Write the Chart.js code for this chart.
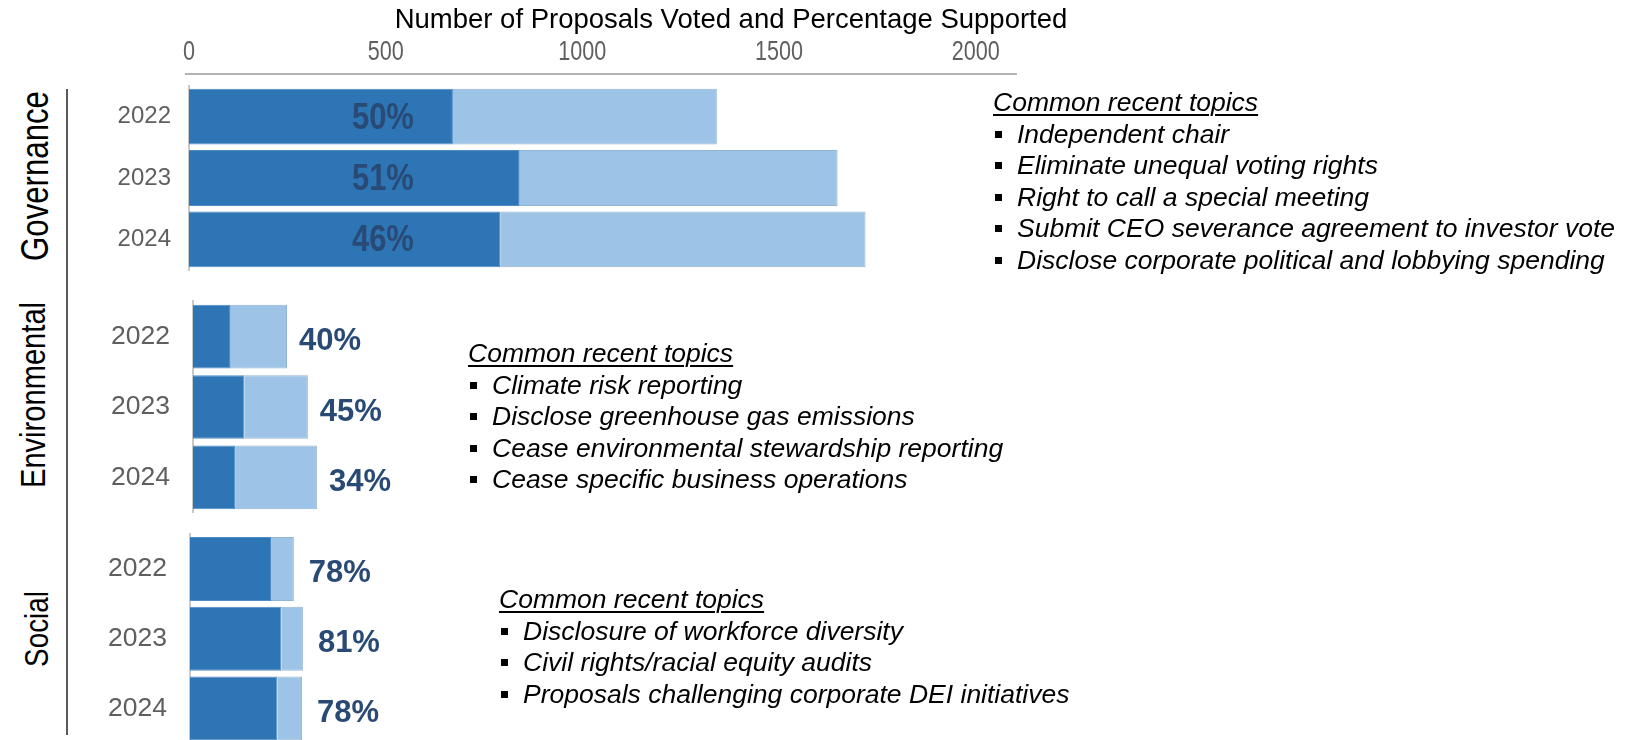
<!DOCTYPE html>
<html>
<head>
<meta charset="utf-8">
<title>Proposals voted and percentage supported</title>
<script src="https://cdn.jsdelivr.net/npm/chart.js@4.4.1/dist/chart.umd.min.js"></script>
<style>
  html, body { margin: 0; padding: 0; background: #fff; }
  body { width: 1644px; height: 740px; position: relative; overflow: hidden; }
  canvas { position: absolute; left: 0; }
  #govCanvas { top: 0; }
  #envCanvas { top: 290px; }
  #socCanvas { top: 520px; }

  /* category names run bottom-to-top, squeezed along the text like a narrow face */
  .cat {
    position: absolute;
    font-family: 'Liberation Sans', Arial, sans-serif;
    color: #000;
    line-height: 1;
    white-space: nowrap;
    transform: translate(-50%, -50%) rotate(-90deg) scaleX(0.82);
  }
  .divider { position: absolute; left: 66px; top: 89px; width: 2px; height: 646px; background: #595959; }

  .topics {
    position: absolute;
    font-family: 'Liberation Sans', Arial, sans-serif;
    font-style: italic;
    font-size: 26.5px;
    line-height: 31.5px;
    color: #000;
    white-space: nowrap;
  }
  .topics .head { text-decoration: underline; text-decoration-thickness: 1.5px; text-underline-offset: 3px; }
  .topics ul { list-style: none; margin: 0; padding: 0; }
  .topics li { position: relative; padding-left: 24px; }
  .topics li::before {
    content: ''; position: absolute; left: 2px; top: 12px;
    width: 7px; height: 7px; background: #000;
  }
</style>
</head>
<body>

<div class="cat" style="left:35px; top:176px; font-size:38px">Governance</div>
<div class="cat" style="left:34px; top:395px; font-size:35.5px">Environmental</div>
<div class="cat" style="left:36px; top:629px; font-size:34px">Social</div>
<div class="divider"></div>

<canvas id="govCanvas" width="1100" height="275"></canvas>
<canvas id="envCanvas" width="1100" height="235"></canvas>
<canvas id="socCanvas" width="1100" height="230"></canvas>

<div class="topics" id="govTopics" style="left:993px; top:87px"></div>
<div class="topics" id="envTopics" style="left:468px; top:338px"></div>
<div class="topics" id="socTopics" style="left:499px; top:584px"></div>

<script>
// Proposals voted per year, split into supported / not supported
const years = ['2022', '2023', '2024'];

const govTotals = [1342, 1649, 1720];
const govSupportPct = [50, 51, 46];

const envTotals = [239, 292, 315];
const envSupportPct = [40, 45, 34];

const socTotals = [264, 287, 285];
const socSupportPct = [78, 81, 78];

// shared count axis
const axisTicks = [0, 500, 1000, 1500, 2000];
const axisMax = 2100;
const axisTitle = 'Number of Proposals Voted and Percentage Supported';

const topicsHeading = 'Common recent topics';
const govTopics = [
    'Independent chair',
    'Eliminate unequal voting rights',
    'Right to call a special meeting',
    'Submit CEO severance agreement to investor vote',
    'Disclose corporate political and lobbying spending'
];
const envTopics = [
    'Climate risk reporting',
    'Disclose greenhouse gas emissions',
    'Cease environmental stewardship reporting',
    'Cease specific business operations'
];
const socTopics = [
    'Disclosure of workforce diversity',
    'Civil rights/racial equity audits',
    'Proposals challenging corporate DEI initiatives'
];

// Colours
const DARK_BLUE = '#2e75b6';
const LIGHT_BLUE = '#9dc3e6';
const LABEL_NAVY = '#284a75';
const TICK_GREY = '#5f5f5f';

// every panel uses the same pixels per proposal so the bars compare
const AXIS_WIDTH = 826;
const SANS = "'Liberation Sans', Arial, sans-serif";

// Topic lists next to each panel
function fillTopics(id, items) {
    const box = document.getElementById(id);
    let html = '<div class="head">' + topicsHeading + '</div><ul>';
    items.forEach(t => { html += '<li>' + t + '</li>'; });
    html += '</ul>';
    box.innerHTML = html;
}
fillTopics('govTopics', govTopics);
fillTopics('envTopics', envTopics);
fillTopics('socTopics', socTopics);

// Percentage labels: at a fixed spot inside the bars, or just past the bar end
const pctLabels = {
    id: 'pctLabels',
    afterDatasetsDraw(chart) {
        const cfg = chart.options.plugins.pctLabels;
        const ctx = chart.ctx;
        const lightBars = chart.getDatasetMeta(1).data;
        ctx.save();
        ctx.fillStyle = LABEL_NAVY;
        ctx.font = 'bold ' + cfg.size + 'px ' + SANS;
        ctx.textBaseline = 'middle';
        cfg.values.forEach((v, i) => {
            const bar = lightBars[i];
            ctx.save();
            if (cfg.inside) {
                ctx.textAlign = 'center';
                ctx.translate(chart.scales.x.getPixelForValue(cfg.at), bar.y + 2);
            } else {
                ctx.textAlign = 'left';
                ctx.translate(bar.x + cfg.gap, bar.y + 5);
            }
            ctx.scale(cfg.squeeze, 1);
            ctx.fillText(v + '%', 0, 0);
            ctx.restore();
        });
        ctx.restore();
    }
};

// Top axis rule, narrow tick labels and title for the governance panel
const topAxisDecor = {
    id: 'topAxisDecor',
    afterDraw(chart) {
        if (!chart.options.plugins.topAxisDecor.show) return;
        const ctx = chart.ctx;
        const xs = chart.scales.x;
        ctx.save();
        ctx.strokeStyle = '#9a9a9a';
        ctx.lineWidth = 1.5;
        ctx.beginPath();
        ctx.moveTo(185, 74);
        ctx.lineTo(1017, 74);
        ctx.stroke();

        ctx.fillStyle = TICK_GREY;
        ctx.font = '27px ' + SANS;
        ctx.textAlign = 'center';
        ctx.textBaseline = 'middle';
        xs.ticks.forEach(t => {
            ctx.save();
            ctx.translate(xs.getPixelForValue(t.value), 53);
            ctx.scale(0.8, 1);
            ctx.fillText(String(t.value), 0, 0);
            ctx.restore();
        });

        ctx.fillStyle = '#000';
        ctx.font = '27.5px ' + SANS;
        ctx.fillText(axisTitle, 731, 20);
        ctx.restore();
    }
};

function buildPanel(canvasId, totals, pct, p) {
    const supported = totals.map((t, i) => Math.round(t * pct[i] / 100));
    const rest = totals.map((t, i) => t - supported[i]);
    const canvas = document.getElementById(canvasId);

    return new Chart(canvas.getContext('2d'), {
        type: 'bar',
        data: {
            labels: years,
            datasets: [{
                data: supported,
                backgroundColor: DARK_BLUE,
                borderColor: '#4d8cc6',
                borderWidth: 1,
                barPercentage: p.barPct,
                categoryPercentage: 1
            }, {
                data: rest,
                backgroundColor: LIGHT_BLUE,
                borderColor: '#93b3d2',
                borderWidth: 1,
                barPercentage: p.barPct,
                categoryPercentage: 1
            }]
        },
        options: {
            indexAxis: 'y',
            responsive: false,
            animation: false,
            layout: {
                padding: { top: p.top, bottom: p.bottom, left: 0, right: canvas.width - p.left - AXIS_WIDTH }
            },
            plugins: {
                legend: { display: false },
                tooltip: { enabled: false },
                pctLabels: {
                    values: pct, inside: p.inside, at: 493, gap: p.gap,
                    size: p.pctSize, squeeze: p.pctSqueeze
                },
                topAxisDecor: { show: p.showAxis }
            },
            scales: {
                x: {
                    stacked: true,
                    min: 0,
                    max: axisMax,
                    position: 'top',
                    display: p.showAxis,
                    grid: { display: false, drawTicks: false },
                    border: { display: false },
                    ticks: { display: false },
                    afterBuildTicks: s => { s.ticks = axisTicks.map(v => ({ value: v })); },
                    afterFit: s => {
                        s.height = p.axisHeight || 0;
                        s.paddingLeft = 0;
                        s.paddingRight = 0;
                    }
                },
                y: {
                    stacked: true,
                    grid: { display: false, drawTicks: false },
                    border: { display: true, color: '#c9c9c9', width: 2 },
                    afterFit: s => {
                        s.width = p.left;
                        s.paddingTop = 0;
                        s.paddingBottom = 0;
                    },
                    ticks: { color: TICK_GREY, font: { family: SANS, size: p.yearSize }, padding: p.yearPad }
                }
            }
        },
        plugins: [pctLabels, topAxisDecor]
    });
}

buildPanel('govCanvas', govTotals, govSupportPct, {
    left: 189, top: 0, bottom: 5, axisHeight: 86, showAxis: true,
    barPct: 0.91, inside: true, pctSize: 36, pctSqueeze: 0.86, yearSize: 24, yearPad: 18
});
buildPanel('envCanvas', envTotals, envSupportPct, {
    left: 193, top: 11.4, bottom: 12.4, showAxis: false,
    barPct: 0.905, inside: false, gap: 12, pctSize: 31, pctSqueeze: 1, yearSize: 26.5, yearPad: 23
});
buildPanel('socCanvas', socTotals, socSupportPct, {
    left: 190, top: 14, bottom: 6.5, showAxis: false,
    barPct: 0.917, inside: false, gap: 15, pctSize: 31, pctSqueeze: 1, yearSize: 26.5, yearPad: 23
});
</script>
</body>
</html>
